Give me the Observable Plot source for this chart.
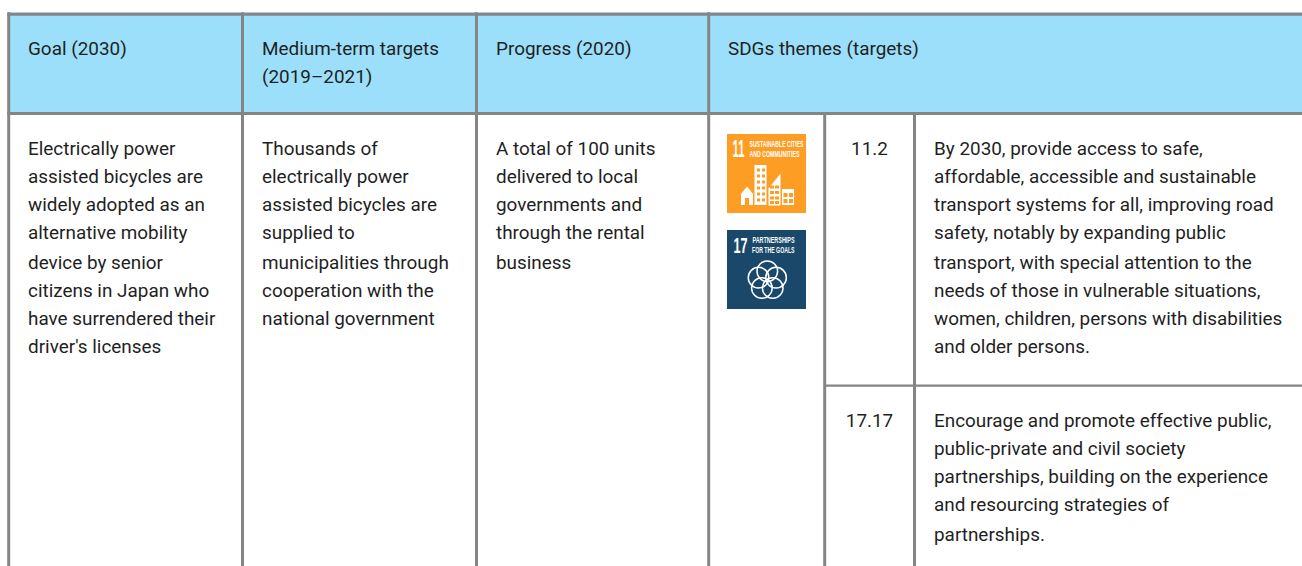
<!DOCTYPE html>
<html>
<head>
<meta charset="utf-8">
<script src="https://cdn.jsdelivr.net/npm/d3@7"></script>
<script src="https://cdn.jsdelivr.net/npm/@observablehq/plot@0.6"></script>
<style>
html,body{margin:0;padding:0;background:#fff;overflow:hidden}
svg{display:block}
</style>
</head>
<body>
<div id="chart"></div>
<script>
const headers = [
  ["Goal (2030)"],
  ["Medium-term targets", "(2019–2021)"],
  ["Progress (2020)"],
  ["SDGs themes (targets)"]
];
const goalLines = ["Electrically power","assisted bicycles are","widely adopted as an","alternative mobility","device by senior","citizens in Japan who","have surrendered their","driver's licenses"];
const targetLines = ["Thousands of","electrically power","assisted bicycles are","supplied to","municipalities through","cooperation with the","national government"];
const progressLines = ["A total of 100 units","delivered to local","governments and","through the rental","business"];
const target112Lines = ["By 2030, provide access to safe,","affordable, accessible and sustainable","transport systems for all, improving road","safety, notably by expanding public","transport, with special attention to the","needs of those in vulnerable situations,","women, children, persons with disabilities","and older persons."];
const target1717Lines = ["Encourage and promote effective public,","public-private and civil society","partnerships, building on the experience","and resourcing strategies of","partnerships."];
const targetCodes = ["11.2", "17.17"];

// table geometry
const W = 1302, H = 566;
const columnLines = [8.2, 242, 476, 708.2];
const subColumnLines = [824.2, 914];
const rowLines = [13.7, 113];
const subRowLine = 385.2;
const gridColor = "#858585", headerColor = "#9bdffa", ink = "#1f1f1f";

const lineTop = (top, i) => top + 28 * i + (i >= 4 ? 2 : 0);
const block = (lines, x, top) => lines.map((t, i) => ({t, x, y: lineTop(top, i)}));
const body = [
  ...block(goalLines, 27.5, 148.5), ...block(targetLines, 261.5, 148.5), ...block(progressLines, 495.5, 148.5),
  ...block(target112Lines, 933.5, 148.5), ...block(target1717Lines, 933.5, 420.5),
  ...headers.flatMap((h, k) => block(h, [27.5, 261.5, 495.5, 727.5][k], 48.5))
];
const codes = targetCodes.map((t, i) => ({t, x: 869, y: [148.5, 420.5][i]}));

// SDG icons
const icons = [
  {x1: 727, x2: 806, y1: 134, y2: 213, fill: "#fd9d24"},
  {x1: 727, x2: 806, y1: 230, y2: 309, fill: "#19486a"}
];
const whiteBlocks = [
  {x1: 754.5, x2: 766.5, y1: 165, y2: 205},
  {x1: 741, x2: 753, y1: 194, y2: 205},
  {x1: 782, x2: 794, y1: 189, y2: 205}
];
const midBuilding = [[768,205],[768,188],[780,173],[780,205],[768,205]];
const roof = [[740,194],[746.5,186],[753,194],[740,194]];
const windows = [
  ...d3.cross([757, 762], [168.5, 174.5, 180.5, 186.5, 192.5, 198.5]).map(([x, y]) => ({x1: x, x2: x + 3, y1: y, y2: y + 3})),
  ...d3.cross([770, 775], [185.5, 191, 196.5, 201]).map(([x, y]) => ({x1: x, x2: x + 4, y1: y, y2: y + 3})),
  ...d3.cross([783.5, 789], [193, 199]).map(([x, y]) => ({x1: x, x2: x + 4, y1: y, y2: y + 4})),
  {x1: 745, x2: 749, y1: 198, y2: 205}
];
const ringAngles = [-90, -18, 54, 126, 198];
const rings = ringAngles.map(a => ({x: 766.8 + 9.2 * Math.cos(a * Math.PI / 180), y: 280 + 9.2 * Math.sin(a * Math.PI / 180)}));
const iconNums = [
  {t: "11", x: 732, y: 149, w: 12},
  {t: "17", x: 733, y: 245, w: 14}
];
const iconCaps = [
  {t: "SUSTAINABLE CITIES", x: 749, y: 144, w: 54},
  {t: "AND COMMUNITIES", x: 749, y: 153.5, w: 50},
  {t: "PARTNERSHIPS", x: 752, y: 240, w: 42},
  {t: "FOR THE GOALS", x: 751.5, y: 249.8, w: 42.5}
];

const vLines = [
  ...columnLines.map(x => ({x, y1: 12.3, y2: H})),
  ...subColumnLines.map(x => ({x, y1: rowLines[1], y2: H}))
];
const hLines = [
  ...rowLines.map(y => ({y, x1: 7.3, x2: W})),
  {y: subRowLine, x1: subColumnLines[0], x2: W}
];

const plot = Plot.plot({
  width: W, height: H,
  margin: 0,
  x: {domain: [0, W], range: [0, W], axis: null},
  y: {domain: [0, H], range: [0, H], axis: null},
  style: {background: "#fff", fontFamily: "Roboto"},
  marks: [
    Plot.rect([{x1: 8, x2: W, y1: 12.3, y2: 113}], {x1: "x1", x2: "x2", y1: "y1", y2: "y2", fill: headerColor}),
    Plot.ruleX(vLines, {x: "x", y1: "y1", y2: "y2", stroke: gridColor, strokeWidth: 3}),
    Plot.ruleY(hLines, {y: "y", x1: "x1", x2: "x2", stroke: gridColor, strokeWidth: d => d.y === subRowLine ? 2.2 : 3}),
    Plot.text(body, {x: "x", y: "y", text: "t", textAnchor: "start", lineAnchor: "middle", fontSize: 18.9, fill: ink}),
    Plot.text(codes, {x: "x", y: "y", text: "t", textAnchor: "middle", lineAnchor: "middle", fontSize: 18.9, fill: ink}),
    Plot.rect(icons, {x1: "x1", x2: "x2", y1: "y1", y2: "y2", fill: "fill"}),
    Plot.rect(whiteBlocks, {x1: "x1", x2: "x2", y1: "y1", y2: "y2", fill: "#fff"}),
    Plot.line(midBuilding, {x: d => d[0], y: d => d[1], fill: "#fff", stroke: "none"}),
    Plot.line(roof, {x: d => d[0], y: d => d[1], fill: "#fff", stroke: "none"}),
    Plot.rect(windows, {x1: "x1", x2: "x2", y1: "y1", y2: "y2", fill: icons[0].fill}),
    Plot.dot(rings, {x: "x", y: "y", r: 10.3, stroke: "#fff", strokeWidth: 1.5, fill: "none"}),
    Plot.text(iconNums, {x: "x", y: "y", text: "t", fill: "#fff", fontSize: 23, fontWeight: 700, textAnchor: "start", lineAnchor: "middle", fontFamily: "Liberation Sans", className: "num"}),
    Plot.text(iconCaps, {x: "x", y: "y", text: "t", fill: "#fff", fontSize: 9.2, fontWeight: 700, textAnchor: "start", lineAnchor: "middle", fontFamily: "Liberation Sans", className: "cap"})
  ]
});
document.getElementById("chart").append(plot);
// The icon lettering is condensed: squeeze each label horizontally to its measured width.
const fit = (sel, rows) => d3.select(plot).selectAll(sel).each(function(_, i) {
  const sx = rows[i].w / this.getComputedTextLength();
  d3.select(this).attr("transform", `${this.getAttribute("transform") || ""} scale(${sx},1)`);
});
fit("g.cap text", iconCaps);
fit("g.num text", iconNums);
</script>
</body>
</html>
